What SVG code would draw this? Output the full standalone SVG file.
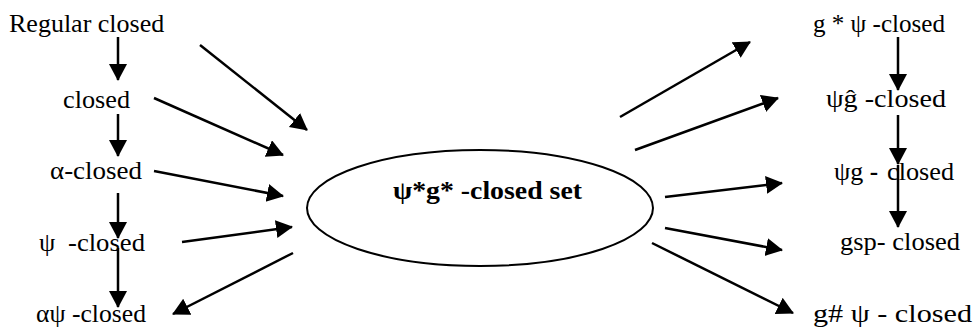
<svg xmlns="http://www.w3.org/2000/svg" width="976" height="327" viewBox="0 0 976 327" font-family="'Liberation Serif', 'DejaVu Serif', serif">
<style>
text{font-size:26px;fill:#000}
.b{font-weight:bold;font-size:25px}
.c line{stroke:#000;stroke-width:2.5;marker-end:url(#ah)}
.e{fill:#fff;stroke:#000;stroke-width:2}
</style>
<defs>
<marker id="ah" markerUnits="userSpaceOnUse" markerWidth="18" markerHeight="20" refX="16" refY="9" orient="auto">
<path d="M0,0 L17,9 L0,18 z" fill="#000"/>
</marker>
</defs>
<rect width="976" height="327" fill="#fff"/>
<g id="center"><ellipse class="e" cx="480" cy="208" rx="173" ry="58"/>
<text class="b" x="393" y="199" textLength="189" lengthAdjust="spacingAndGlyphs">ψ*g* -closed set</text></g>
<g id="regular"><text x="9" y="32">Regular closed</text></g>
<g id="closed"><text x="63" y="108" textLength="67" lengthAdjust="spacingAndGlyphs">closed</text></g>
<g id="alpha"><text x="50" y="179" textLength="92" lengthAdjust="spacingAndGlyphs">α-closed</text></g>
<g id="psi"><text x="39" y="251">ψ</text><text x="68" y="251" textLength="77" lengthAdjust="spacingAndGlyphs">-closed</text></g>
<g id="alphapsi"><text x="36" y="322" textLength="110" lengthAdjust="spacingAndGlyphs">αψ -closed</text></g>
<g id="gstarpsi"><text x="813" y="32" textLength="132" lengthAdjust="spacingAndGlyphs">g * ψ -closed</text></g>
<g id="psighat"><text x="826" y="107" textLength="120" lengthAdjust="spacingAndGlyphs">ψĝ -closed</text></g>
<g id="psig"><text x="834" y="180">ψg <tspan class="b">-</tspan></text><text x="887" y="180" textLength="67" lengthAdjust="spacingAndGlyphs">closed</text></g>
<g id="gsp"><text x="840" y="250" textLength="120" lengthAdjust="spacingAndGlyphs">gsp- closed</text></g>
<g id="gsharppsi"><text x="813" y="322" textLength="159" lengthAdjust="spacingAndGlyphs">g# ψ - closed</text></g>
<g id="connectors" class="c">
<line x1="118" y1="37" x2="118" y2="80"/>
<line x1="118" y1="114" x2="118" y2="156"/>
<line x1="118" y1="193" x2="118" y2="238"/>
<line x1="118" y1="248" x2="118" y2="307"/>
<line x1="200" y1="45" x2="307" y2="130"/>
<line x1="154" y1="98" x2="283" y2="155"/>
<line x1="154" y1="171" x2="283" y2="196"/>
<line x1="182" y1="242" x2="292" y2="227"/>
<line x1="293" y1="253" x2="173" y2="314"/>
<line x1="620" y1="117" x2="750" y2="42"/>
<line x1="635" y1="150" x2="778" y2="98"/>
<line x1="665" y1="197" x2="782" y2="183"/>
<line x1="665" y1="228" x2="782" y2="250"/>
<line x1="652" y1="243" x2="793" y2="313"/>
<line x1="898" y1="37" x2="898" y2="90"/>
<line x1="898" y1="115" x2="898" y2="164"/>
<line x1="898" y1="165" x2="898" y2="227"/>
</g>
</svg>
